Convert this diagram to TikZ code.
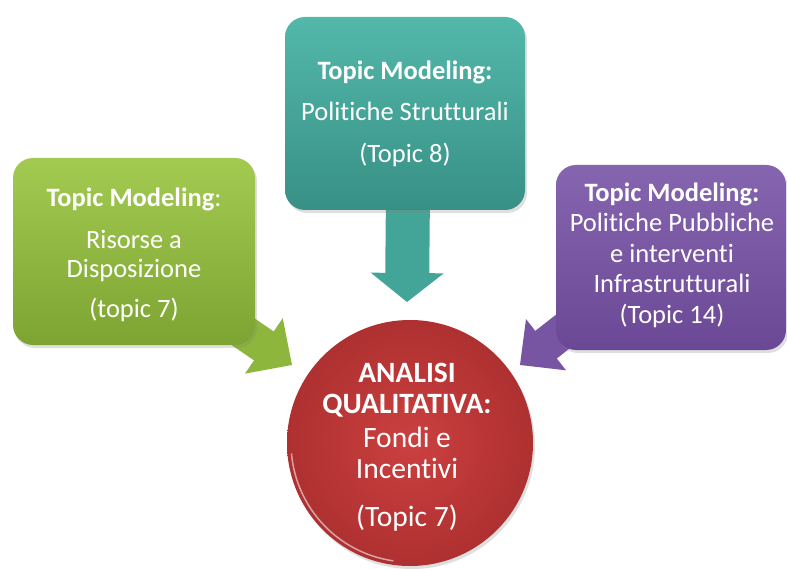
\documentclass[tikz,border=0pt]{standalone}
\usepackage{fontspec}
\setmainfont{Carlito}[Ligatures=NoCommon]
\usetikzlibrary{calc,shadows}

\definecolor{gTop}{HTML}{A3CA50}
\definecolor{gBot}{HTML}{7DA432}
\definecolor{gMid}{HTML}{8DB73C}
\definecolor{tTop}{HTML}{52B8AA}
\definecolor{tBot}{HTML}{389085}
\definecolor{tMid}{HTML}{43A597}
\definecolor{pTop}{HTML}{8665B0}
\definecolor{pBot}{HTML}{6B4895}
\definecolor{pMid}{HTML}{7755A2}
\definecolor{rIn}{HTML}{CC4040}
\definecolor{rOut}{HTML}{AE3030}

\newcommand{\fatarrow}[6]{%
  \path ($(#2)!#5!(#1)$) coordinate (#2b);
  \fill[#6] ($(#1)!#3!90:(#2)$) -- ($(#2b)!#3!90:(#2)$) -- ($(#2b)!#4!90:(#2)$) -- (#2)
    -- ($(#2b)!#4!-90:(#2)$) -- ($(#2b)!#3!-90:(#2)$) -- ($(#1)!#3!-90:(#2)$) -- cycle;}

\begin{document}
\begin{tikzpicture}[x=1pt,y=-1pt,
  box/.style={rectangle, rounded corners=20pt, inner sep=0pt, outer sep=0pt,
    drop shadow={opacity=0.25, shadow xshift=2pt, shadow yshift=-3pt}},
  txt/.style={text=white, align=center, font=\fontsize{26.5}{29}\selectfont, inner sep=0pt},
  bigtxt/.style={txt, font=\fontsize{29.5}{31}\selectfont}
]
\useasboundingbox[fill=white] (0,0) rectangle (787,569);

% arrows (beneath the boxes)
\coordinate (ga) at (214,312);
\coordinate (gt) at (292,365);
\fatarrow{ga}{gt}{17.5pt}{33.5pt}{34pt}{gMid}
\coordinate (ta) at (408,190);
\coordinate (tt) at (407,302);
\fatarrow{ta}{tt}{22pt}{36.5pt}{29pt}{tMid}
\coordinate (pa) at (593,308);
\coordinate (pt) at (520,365);
\fatarrow{pa}{pt}{17.5pt}{32.5pt}{33pt}{pMid}

% boxes
\node[box, minimum width=242pt, minimum height=187pt, top color=gTop, bottom color=gBot] (green) at (134,251.5) {};
\node[box, minimum width=240pt, minimum height=193pt, top color=tTop, bottom color=tBot] (teal) at (405,113.5) {};
\node[box, minimum width=230pt, minimum height=185pt, top color=pTop, bottom color=pBot] (purple) at (671,257.5) {};

% circle
\node[circle, minimum size=246pt, inner sep=0pt, outer sep=0pt, inner color=rIn, outer color=rOut,
  drop shadow={opacity=0.25, shadow xshift=2pt, shadow yshift=-3pt}] (red) at (410,443) {};
\draw[white, opacity=0.55, line width=1.5pt] ($(red.center)+(185:119pt)$) arc[start angle=185, end angle=262, radius=119pt];

% texts
\node[txt] (gtxt) at (134,255) {\textbf{Topic Modeling}:\\[13pt] Risorse a\\ Disposizione\\[11pt] (topic 7)};
\node[txt] (ttxt) at (405,113.5) {\textbf{Topic Modeling:}\\[12pt] Politiche Strutturali\\[13pt] (Topic 8)};
\node[txt, font=\fontsize{26.5}{30.5}\selectfont] (ptxt) at (672,255) {\textbf{Topic Modeling:}\\ Politiche Pubbliche\\ e interventi\\ Infrastrutturali\\ (Topic 14)};
\node[bigtxt] (rtxt) at (407,447) {\textbf{ANALISI}\\ \textbf{QUALITATIVA:}\\[3pt] Fondi e\\ Incentivi\\[17pt] (Topic 7)};
\end{tikzpicture}
\end{document}
